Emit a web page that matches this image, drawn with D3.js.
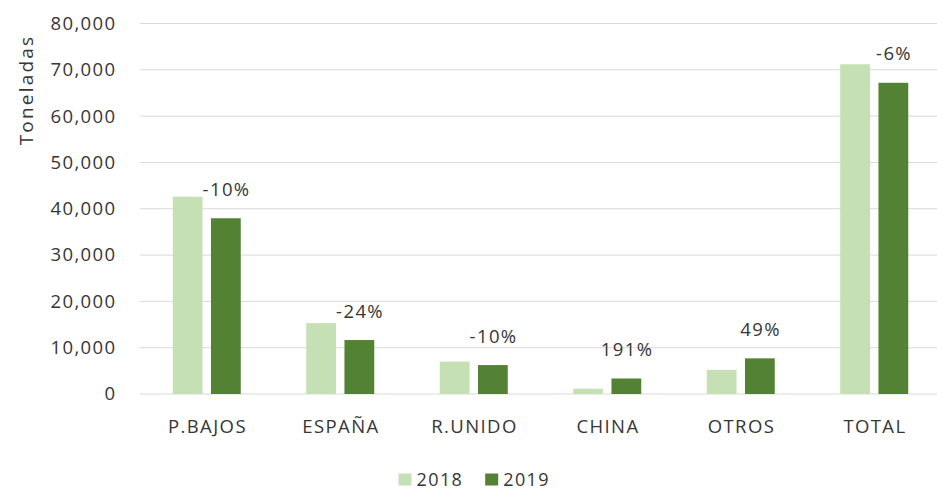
<!DOCTYPE html>
<html><head><meta charset="utf-8">
<script src="https://cdn.jsdelivr.net/npm/d3@7"></script>
<style>body{margin:0;background:#fff;} text{font-family:"Open Sans",sans-serif;fill:#363636;}</style>
</head><body><svg id="c" width="937" height="491"></svg>
<script>
const categories = ["P.BAJOS","ESPAÑA","R.UNIDO","CHINA","OTROS","TOTAL"];
const series = ["2018","2019"];
const values2018 = [42600, 15300, 7000, 1150, 5200, 71200];
const values2019 = [37950, 11650, 6250, 3350, 7700, 67200];
const changeLabels = ["-10%","-24%","-10%","191%","49%","-6%"];
const yTicks = [0,10000,20000,30000,40000,50000,60000,70000,80000];
const colors = ["#c5e0b4","#548235"];

const FS = "18.5px", LS = "1.4px";
const svg = d3.select("#c");
const x = d3.scaleBand().domain(categories).range([140, 941]).padding(0);
const y = d3.scaleLinear().domain([0, 80000]).range([394, 23.5]);
const x1 = d3.scaleBand().domain(series).range([-34, 34]).paddingInner(0.22).paddingOuter(0);

// gridlines
svg.append("g").selectAll("line").data(yTicks).join("line")
  .attr("x1", 140).attr("x2", 937).attr("y1", d => y(d)).attr("y2", d => y(d))
  .attr("stroke", "#d9d9d9").attr("stroke-width", 1);

// y axis labels
const yAxis = svg.append("g").attr("transform", "translate(116.5,0)")
  .call(d3.axisLeft(y).tickValues(yTicks).tickFormat(d3.format(",")).tickSize(0).tickPadding(0));
yAxis.select(".domain").remove();
yAxis.selectAll("text").style("font-size", FS).style("letter-spacing", LS)
  .style("font-family", "\"Open Sans\",sans-serif").attr("fill", "#363636");

// x axis labels
const xAxis = svg.append("g").attr("transform", "translate(0.7,394)")
  .call(d3.axisBottom(x).tickSize(0).tickPadding(26));
xAxis.select(".domain").remove();
xAxis.selectAll("text").style("font-size", FS).style("letter-spacing", LS)
  .style("font-family", "\"Open Sans\",sans-serif").attr("fill", "#363636");

// bars
const data = categories.map((c, i) => ({c, vals: [values2018[i], values2019[i]], label: changeLabels[i]}));
const groups = svg.append("g").selectAll("g").data(data).join("g")
  .attr("transform", d => `translate(${x(d.c) + x.bandwidth()/2},0)`);
groups.selectAll("rect").data(d => d.vals.map((v, j) => ({s: series[j], v, j}))).join("rect")
  .attr("x", d => x1(d.s)).attr("width", x1.bandwidth())
  .attr("y", d => y(d.v)).attr("height", d => y(0) - y(d.v))
  .attr("fill", d => colors[d.j]);
groups.append("text")
  .attr("x", x1("2019") + x1.bandwidth()/2 + 0.7)
  .attr("y", d => y(d.vals[1]) - 22.5)
  .attr("text-anchor", "middle").style("font-size", FS).style("letter-spacing", LS)
  .text(d => d.label);

// y title
svg.append("text").attr("transform", "translate(33,90) rotate(-90)")
  .attr("text-anchor", "middle").style("font-size", "19px").style("letter-spacing", "2.2px").text("Toneladas");

// legend
const lg = svg.append("g").attr("transform", "translate(398.5,473.5)");
series.forEach((s, i) => {
  const g = lg.append("g").attr("transform", `translate(${i*86.7},0)`);
  g.append("rect").attr("width", 13).attr("height", 12).attr("fill", colors[i]);
  g.append("text").attr("x", 18).attr("y", 12.5).style("font-size", "18px").style("letter-spacing", LS).text(s);
});
</script></body></html>
